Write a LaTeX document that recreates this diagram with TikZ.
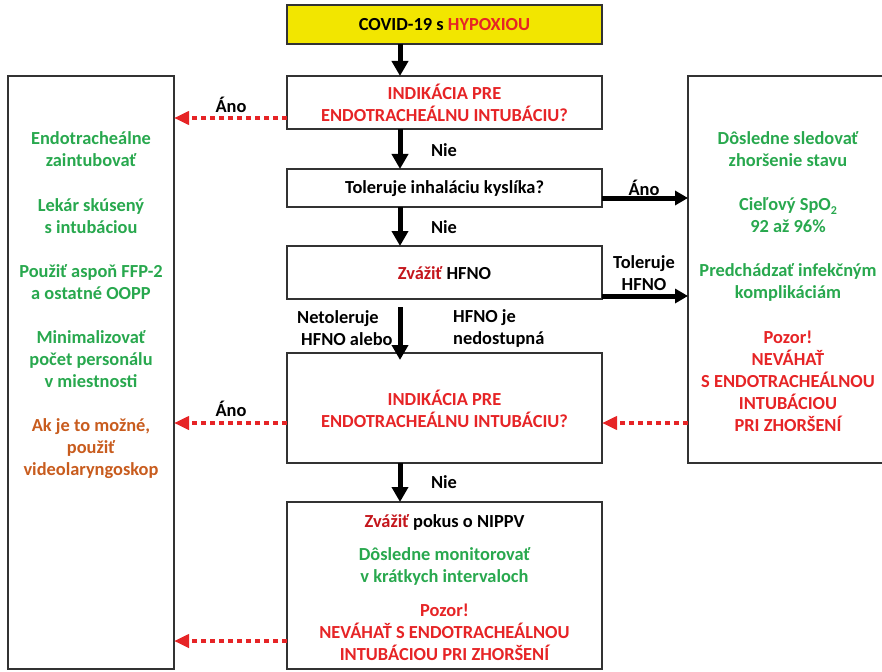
\documentclass[tikz,border=0pt]{standalone}
\usepackage{fontspec}
\setmainfont{Carlito}
\usetikzlibrary{arrows.meta}
\definecolor{ygreen}{RGB}{40,168,78}
\definecolor{wred}{RGB}{230,36,38}
\definecolor{dred}{RGB}{196,22,28}
\definecolor{worange}{RGB}{200,92,30}
\definecolor{wyellow}{RGB}{242,230,0}
\definecolor{bordergray}{RGB}{50,50,50}
\tikzset{
  box/.style={draw=bordergray, line width=1.4pt, inner sep=0pt, outer sep=0pt},
  txt/.style={font=\bfseries\fontsize{18.4}{22}\selectfont, align=center, inner sep=0pt},
  lbl/.style={font=\bfseries\fontsize{18.4}{22}\selectfont, inner sep=0pt, text=black},
  blackarrow/.style={line width=5pt, -{Triangle[length=15pt,width=16pt]}},
  sidearrow/.style={line width=5pt, -{Triangle[length=13pt,width=14pt]}},
  redarrow/.style={wred, line width=4.8pt, dash pattern=on 5pt off 4pt, -{Triangle[length=15pt,width=13pt]}},
}
\begin{document}
\begin{tikzpicture}[x=1pt,y=-1pt]
\useasboundingbox (0,0) rectangle (882,671);
% main column boxes
\node[box, fill=wyellow, minimum width=315pt, minimum height=39pt] (b1) at (444.5,24.5) {};
\node[txt] (t1) at (444.5,25) {COVID-19 s \textcolor{wred}{HYPOXIOU}};
\node[box, minimum width=315pt, minimum height=53pt] (b2) at (444.5,102.5) {};
\node[txt, text=wred] (t2) at (444.5,103) {INDIKÁCIA PRE\\ENDOTRACHEÁLNU INTUBÁCIU?};
\node[box, minimum width=315pt, minimum height=38pt] (b3) at (444.5,188) {};
\node[txt] (t3) at (444.5,188.5) {Toleruje inhaláciu kyslíka?};
\node[box, minimum width=315pt, minimum height=53pt] (b4) at (444.5,272.5) {};
\node[txt] (t4) at (444.5,273) {\textcolor{dred}{Zvážiť} HFNO};
\node[box, minimum width=315pt, minimum height=110pt] (b5) at (444.5,408) {};
\node[txt, text=wred] (t5) at (444.5,409) {INDIKÁCIA PRE\\ENDOTRACHEÁLNU INTUBÁCIU?};
\node[box, minimum width=315pt, minimum height=167pt] (b6) at (444.5,585.5) {};
\node[txt] (t6a) at (444.5,522) {\textcolor{dred}{Zvážiť} pokus o NIPPV};
\node[txt, text=ygreen] (t6b) at (444.5,566) {Dôsledne monitorovať\\v krátkych intervaloch};
\node[txt, text=wred] (t6c) at (444.5,632) {Pozor!\\NEVÁHAŤ S ENDOTRACHEÁLNOU\\INTUBÁCIOU PRI ZHORŠENÍ};
% left box
\node[box, minimum width=166pt, minimum height=593pt] (left) at (91,372.5) {};
\node[txt, text=ygreen] (l1) at (91,149) {Endotracheálne\\zaintubovať};
\node[txt, text=ygreen] (l2) at (91,216) {Lekár skúsený\\s intubáciou};
\node[txt, text=ygreen] (l3) at (91,282) {Použiť aspoň FFP-2\\a ostatné OOPP};
\node[txt, text=ygreen] (l4) at (91,359) {Minimalizovať\\počet personálu\\v miestnosti};
\node[txt, text=worange] (l5) at (91,449) {Ak je to možné,\\použiť\\videolaryngoskop};
% right box (right side clipped by page edge)
\node[box, minimum width=200pt, minimum height=387pt] (right) at (788,269.5) {};
\node[txt, text=ygreen] (r1) at (788,149) {Dôsledne sledovať\\zhoršenie stavu};
\node[txt, text=ygreen] (r2) at (788,215) {Cieľový SpO\raisebox{-0.22em}{\fontsize{12}{12}\selectfont 2}\\92 až 96\%};
\node[txt, text=ygreen] (r3) at (788,282) {Predchádzať infekčným\\komplikáciám};
\node[txt, text=wred] (r4) at (788,381) {Pozor!\\NEVÁHAŤ\\S ENDOTRACHEÁLNOU\\INTUBÁCIOU\\PRI ZHORŠENÍ};
% helper coordinates
\coordinate (ax) at (400,0);
\coordinate (yA) at (0,118);
\coordinate (yB) at (0,423);
\coordinate (yC) at (0,641);
\coordinate (yD) at (0,198);
\coordinate (yE) at (0,296);
\coordinate (s4) at (400,307);
% vertical arrows
\draw[blackarrow] (b1.south -| ax) -- (b2.north -| ax);
\draw[blackarrow] (b2.south -| ax) -- (b3.north -| ax);
\draw[blackarrow] (b3.south -| ax) -- (b4.north -| ax);
\draw[blackarrow] (s4) -- ([yshift=-7pt]b5.north -| ax);
\draw[blackarrow] (b5.south -| ax) -- (b6.north -| ax);
% side arrows
\draw[sidearrow] (b3.east |- yD) -- (right.west |- yD);
\draw[sidearrow] (b4.east |- yE) -- (right.west |- yE);
\draw[redarrow] (b2.west |- yA) -- (left.east |- yA);
\draw[redarrow] (b5.west |- yB) -- (left.east |- yB);
\draw[redarrow] (b6.west |- yC) -- (left.east |- yC);
\draw[redarrow] (right.west |- yB) -- (b5.east |- yB);
% labels
\node[lbl] (n1) at (444,150) {Nie};
\node[lbl] (n2) at (444,227) {Nie};
\node[lbl] (n3) at (444,482) {Nie};
\node[lbl] (a1) at (231,105) {Áno};
\node[lbl] (a2) at (231,409) {Áno};
\node[lbl] (a3) at (644,188) {Áno};
\node[lbl, align=center] (th) at (644,273) {Toleruje\\HFNO};
\node[lbl, align=left, anchor=west] (nt) at (297,328) {Netoleruje\\\hspace*{4pt}HFNO alebo};
\node[lbl, align=left, anchor=west] (hj) at (453,328) {HFNO je\\nedostupná};
\end{tikzpicture}
\end{document}
